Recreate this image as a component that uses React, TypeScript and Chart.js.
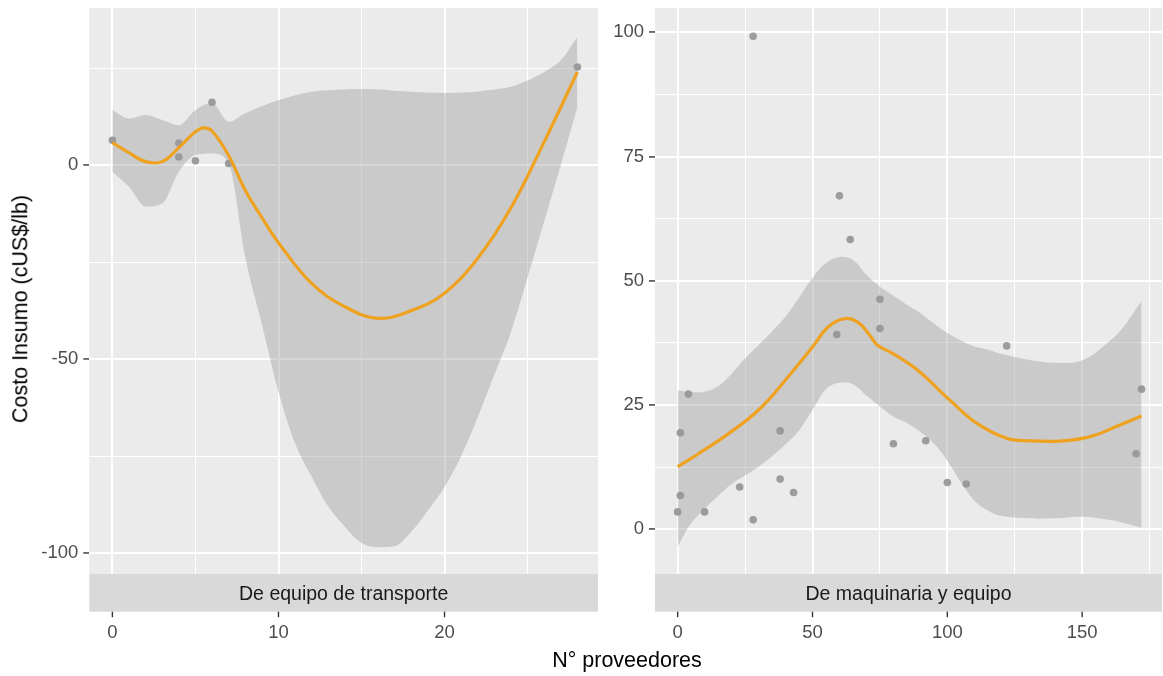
import React, { useEffect, useRef } from 'react';
import { Chart, registerables } from 'chart.js';

Chart.register(...registerables);

const FONT = "'Liberation Sans', Arial, Helvetica, sans-serif";

// ---------- Panel 1: De equipo de transporte ----------
const transporteLabel = 'De equipo de transporte';
const transportePointsX = [0, 4, 4, 5, 6, 7, 28];
const transportePointsY = [6.4, 5.7, 2.1, 1.1, 16.2, 0.4, 25.3];
const transporteFitX = [0, 1, 2, 3, 4, 5, 5.5, 6, 7, 8, 9, 10, 12, 14, 16, 18, 20, 22, 24, 26, 28];
const transporteFitY = [5.8, 3.2, 0.9, 0.9, 4.5, 8.6, 9.6, 8.8, 2.5, -6.5, -13.5, -20, -30.5, -36.5, -39.5, -37.5, -33, -24, -11, 6, 24];
const transporteBandX = [0, 1, 2, 3, 4, 5, 6, 7, 8, 9, 10, 11, 12, 13, 14, 15, 16, 17, 18, 19, 20, 21, 22, 23, 24, 25, 26, 27, 28];
const transporteBandHi = [14.2, 12, 12.9, 11.6, 10.3, 14.2, 16, 11.2, 13.4, 15.2, 16.7, 18, 18.9, 19.3, 19.5, 19.6, 19.5, 19.2, 18.9, 18.7, 18.6, 18.7, 19, 19.5, 20.2, 21.8, 24, 27, 33];
const transporteBandLo = [-1.7, -5.6, -10.7, -9.9, -1.7, 2.6, 3, 0.5, -23.6, -41, -58.4, -71.7, -80.3, -88, -93.2, -97.4, -98.5, -98.2, -94.5, -89, -83, -75, -65, -54, -43, -29, -14.5, 0, 15];
const transporteXMajor = [0, 10, 20];
const transporteXMinor = [5, 15, 25];
const transporteYMajor = [-100, -50, 0];
const transporteYMinor = [-75, -25, 25];

// ---------- Panel 2: De maquinaria y equipo ----------
const maquinariaLabel = 'De maquinaria y equipo';
const maquinariaPointsX = [28, 60, 64, 75, 75, 59, 122, 172, 4, 1, 38, 80, 92, 170, 38, 23, 43, 100, 107, 1, 0, 10, 28];
const maquinariaPointsY = [99.2, 67.1, 58.3, 46.3, 40.4, 39.2, 36.9, 28.2, 27.2, 19.4, 19.8, 17.2, 17.8, 15.2, 10.1, 8.5, 7.4, 9.4, 9.1, 6.8, 3.5, 3.5, 1.9];
const maquinariaFitX = [0, 8, 19, 30, 41, 50, 56, 62, 67, 71, 74, 80, 89, 101.5, 111, 122, 130, 143, 154, 164, 172];
const maquinariaFitY = [12.6, 15.3, 19.3, 24, 30.7, 36.7, 40.8, 42.4, 41.6, 39.2, 37.1, 35.3, 32, 25.7, 21.3, 18.3, 17.8, 17.8, 18.8, 21, 22.8];
const maquinariaBandX = [0, 5, 10, 15, 20, 25, 30, 35, 40, 45, 50, 55, 60, 65, 70, 75, 80, 85, 90, 95, 100, 105, 110, 115, 120, 130, 140, 150, 160, 165, 172];
const maquinariaBandHi = [28, 27.6, 27.7, 28.8, 31.3, 34.4, 37.1, 39.8, 42.8, 46.6, 50.6, 53.6, 54.8, 54.2, 51.2, 48.8, 47, 45.2, 43.5, 41.4, 39.5, 38, 36.8, 36.2, 35.3, 34.1, 33.5, 34, 37.8, 40.5, 46];
const maquinariaBandLo = [-3.5, 1.2, 4.1, 6.7, 9.1, 10.8, 12.6, 14.7, 17.1, 19.9, 24, 28.2, 29.5, 29.2, 26.9, 24.7, 22.7, 21.4, 19.6, 17.3, 13.8, 9.5, 5.8, 3.8, 2.7, 2.2, 2.2, 2.5, 1.9, 1.3, 0.3];
const maquinariaXMajor = [0, 50, 100, 150];
const maquinariaXMinor = [25, 75, 125, 175];
const maquinariaYMajor = [0, 25, 50, 75, 100];
const maquinariaYMinor = [12.5, 37.5, 62.5, 87.5];

const yTitle = 'Costo Insumo (cUS$/lb)';
const xTitle = 'N° proveedores';

const toXY = (xs: number[], ys: number[]) => xs.map((x, i) => ({ x, y: ys[i] }));

const stripPlugin = {
  id: 'strip',
  beforeDraw(chart: any) {
    const { ctx, chartArea } = chart;
    ctx.save();
    ctx.fillStyle = '#EBEBEB';
    ctx.fillRect(chartArea.left, chartArea.top, chartArea.right - chartArea.left, chartArea.bottom - chartArea.top);
    ctx.restore();
  },
  afterDraw(chart: any, _args: any, opts: any) {
    const { ctx, chartArea } = chart;
    const stripH = 37.7;
    ctx.save();
    ctx.fillStyle = '#D9D9D9';
    ctx.fillRect(chartArea.left, chartArea.bottom, chartArea.right - chartArea.left, stripH);
    ctx.fillStyle = '#1A1A1A';
    ctx.font = `19.5px ${FONT}`;
    ctx.textAlign = 'center';
    ctx.textBaseline = 'middle';
    ctx.fillText(opts.label, (chartArea.left + chartArea.right) / 2, chartArea.bottom + stripH / 2 + 2);
    const xs = chart.scales.x;
    ctx.strokeStyle = '#333333';
    ctx.lineWidth = 1.4;
    (opts.majors as number[]).forEach((v) => {
      const px = xs.getPixelForValue(v);
      ctx.beginPath();
      ctx.moveTo(px, chartArea.bottom + stripH);
      ctx.lineTo(px, chartArea.bottom + stripH + 5.5);
      ctx.stroke();
    });
    ctx.restore();
  },
};

type Panel = {
  label: string;
  px: number[]; py: number[];
  fx: number[]; fy: number[];
  bx: number[]; bhi: number[]; blo: number[];
  xMajor: number[]; xMinor: number[]; yMajor: number[]; yMinor: number[];
  xMin: number; xMax: number; yMin: number; yMax: number;
  yAxisWidth: number; padRight: number; bandMode: string;
};

function makeConfig(p: Panel): any {
  const xMajorSet = new Set(p.xMajor);
  const yMajorSet = new Set(p.yMajor);
  const xAll = [...p.xMajor, ...p.xMinor].sort((a, b) => a - b);
  const yAll = [...p.yMajor, ...p.yMinor].sort((a, b) => a - b);
  const bandInterp = p.bandMode === 'monotone'
    ? { cubicInterpolationMode: 'monotone' }
    : { tension: 0.4 };
  return {
    type: 'scatter',
    data: {
      datasets: [
        {
          type: 'line', data: toXY(p.fx, p.fy), borderColor: '#EEA21F', borderWidth: 3.2,
          pointRadius: 0, fill: false, tension: 0.4, order: 0,
        },
        {
          type: 'line', data: toXY(p.bx, p.bhi), borderWidth: 0, borderColor: 'rgba(0,0,0,0)',
          backgroundColor: 'rgba(153,153,153,0.4)', pointRadius: 0, fill: '+1',
          ...bandInterp, order: 1,
        },
        {
          type: 'line', data: toXY(p.bx, p.blo), borderWidth: 0, borderColor: 'rgba(0,0,0,0)',
          pointRadius: 0, fill: false, ...bandInterp, order: 2,
        },
        {
          type: 'scatter', data: toXY(p.px, p.py), backgroundColor: '#9C9C9C', borderWidth: 0,
          pointRadius: 3.8, order: 3,
        },
      ],
    },
    options: {
      animation: false,
      responsive: false,
      layout: { padding: { left: 0, top: 8, right: p.padRight, bottom: 0 } },
      plugins: {
        legend: { display: false },
        tooltip: { enabled: false },
        strip: { label: p.label, majors: p.xMajor },
      },
      scales: {
        x: {
          type: 'linear', min: p.xMin, max: p.xMax,
          border: { display: false },
          afterBuildTicks: (s: any) => { s.ticks = xAll.map((v) => ({ value: v })); },
          afterFit: (s: any) => { s.height = 102; s.paddingLeft = 0; s.paddingRight = 0; },
          grid: {
            color: '#FFFFFF', drawTicks: false,
            lineWidth: (c: any) => (c.tick && xMajorSet.has(c.tick.value) ? 1.9 : 1.0),
          },
          ticks: {
            autoSkip: false, maxRotation: 0, padding: 48,
            color: '#4D4D4D', font: { family: FONT, size: 18.5 },
            callback: (v: any) => (xMajorSet.has(v) ? String(v) : ''),
          },
        },
        y: {
          type: 'linear', min: p.yMin, max: p.yMax,
          border: { display: false },
          afterBuildTicks: (s: any) => { s.ticks = yAll.map((v) => ({ value: v })); },
          afterFit: (s: any) => { s.width = p.yAxisWidth; s.paddingTop = 0; s.paddingBottom = 0; },
          grid: {
            color: '#FFFFFF', drawTicks: true, tickLength: 6, tickWidth: 1.4,
            tickColor: (c: any) => (c.tick && yMajorSet.has(c.tick.value) ? '#333333' : 'rgba(0,0,0,0)'),
            lineWidth: (c: any) => (c.tick && yMajorSet.has(c.tick.value) ? 1.9 : 1.0),
          },
          ticks: {
            autoSkip: false, padding: 5,
            color: '#4D4D4D', font: { family: FONT, size: 18.5 },
            callback: (v: any) => (yMajorSet.has(v) ? String(v) : ''),
          },
        },
      },
    },
    plugins: [stripPlugin],
  };
}

function PanelChart({ panel, left, width }: { panel: Panel; left: number; width: number }) {
  const ref = useRef<HTMLCanvasElement | null>(null);
  useEffect(() => {
    if (!ref.current) return;
    const chart = new Chart(ref.current, makeConfig(panel));
    return () => chart.destroy();
  }, [panel]);
  return (
    <div style={{ position: 'absolute', left, top: 0, width, height: 676 }}>
      <canvas ref={ref} width={width} height={676} style={{ display: 'block', width, height: 676 }} />
    </div>
  );
}

const panelTransporte: Panel = {
  label: transporteLabel,
  px: transportePointsX, py: transportePointsY,
  fx: transporteFitX, fy: transporteFitY,
  bx: transporteBandX, bhi: transporteBandHi, blo: transporteBandLo,
  xMajor: transporteXMajor, xMinor: transporteXMinor, yMajor: transporteYMajor, yMinor: transporteYMinor,
  xMin: -1.39, xMax: 29.24, yMin: -105.4, yMax: 40.5,
  yAxisWidth: 89.3, padRight: 0, bandMode: 'monotone',
};

const panelMaquinaria: Panel = {
  label: maquinariaLabel,
  px: maquinariaPointsX, py: maquinariaPointsY,
  fx: maquinariaFitX, fy: maquinariaFitY,
  bx: maquinariaBandX, bhi: maquinariaBandHi, blo: maquinariaBandLo,
  xMajor: maquinariaXMajor, xMinor: maquinariaXMinor, yMajor: maquinariaYMajor, yMinor: maquinariaYMinor,
  xMin: -8.4, xMax: 179.6, yMin: -9.0, yMax: 104.9,
  yAxisWidth: 55, padRight: 0, bandMode: 'tension',
};

export default function App() {
  return (
    <div style={{ position: 'absolute', left: 0, top: 0, width: 1163, height: 676, background: '#FFFFFF', overflow: 'hidden', fontFamily: FONT }}>
      <PanelChart panel={panelTransporte} left={0} width={602} />
      <PanelChart panel={panelMaquinaria} left={600} width={566} />
      <div style={{ position: 'absolute', left: 21, top: 309, transform: 'translate(-50%, -50%) rotate(-90deg)', whiteSpace: 'nowrap', fontSize: 21.5, color: '#000000', lineHeight: 1 }}>
        {yTitle}
      </div>
      <div style={{ position: 'absolute', left: 627, top: 661, transform: 'translate(-50%, -50%)', whiteSpace: 'nowrap', fontSize: 21.5, color: '#000000', lineHeight: 1 }}>
        {xTitle}
      </div>
    </div>
  );
}
